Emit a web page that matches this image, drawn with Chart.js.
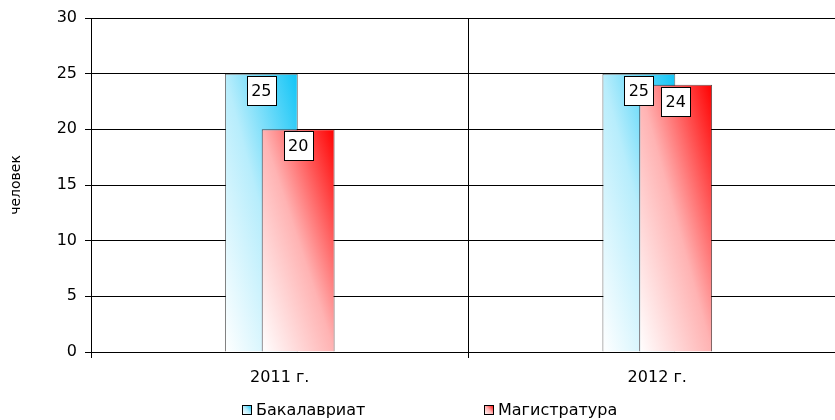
<!DOCTYPE html>
<html>
<head>
<meta charset="utf-8">
<script src="https://cdn.jsdelivr.net/npm/chart.js@4/dist/chart.umd.min.js"></script>
<style>
html,body{margin:0;padding:0;background:#fff;overflow:hidden;width:835px;height:420px;}
canvas{display:block;}
</style>
</head>
<body>
<canvas id="c" width="846" height="420"></canvas>
<script>
const categories = ['2011 г.', '2012 г.'];
const seriesNames = ['Бакалавриат', 'Магистратура'];
const bachelor = [25, 25];
const master = [20, 24];
const yTicks = [0, 5, 10, 15, 20, 25, 30];
const axisTitle = 'человек';

const FONT = '"DejaVu Sans", Verdana, sans-serif';

function mix(rgb, t) {
  return 'rgb(' + rgb.map(c => Math.round(255 * (1 - t) + c * t)).join(',') + ')';
}

function diagGradient(ctx, left, top, right, bottom, rgb) {
  const w = right - left, h = bottom - top;
  const gx = 0.5 / w, gy = -0.5 / h;
  const n = gx * gx + gy * gy;
  const g = ctx.createLinearGradient(left, bottom, left + gx / n, bottom + gy / n);
  g.addColorStop(0, '#ffffff');
  g.addColorStop(0.5, mix(rgb, 0.3));
  g.addColorStop(1, mix(rgb, 1));
  return g;
}

// Draw datasets in their natural order (first dataset at the back) so that
// the overlapping right-hand bar sits on top, then the value boxes.
const drawPlugin = {
  id: 'orderedDraw',
  beforeDatasetsDraw(chart) {
    const ctx = chart.ctx;
    chart.data.datasets.forEach((ds, i) => {
      const meta = chart.getDatasetMeta(i);
      meta.data.forEach(el => {
        const p = el.getProps(['x', 'y', 'base', 'width'], true);
        el.options.backgroundColor = diagGradient(ctx, p.x - p.width / 2, p.y, p.x + p.width / 2, p.base, ds.solidRGB);
      });
    });
    chart.data.datasets.forEach((ds, i) => {
      chart.getDatasetMeta(i).controller.draw();
    });
    ctx.save();
    ctx.font = '16px ' + FONT;
    ctx.textAlign = 'center';
    ctx.textBaseline = 'middle';
    chart.data.datasets.forEach((ds, i) => {
      const meta = chart.getDatasetMeta(i);
      meta.data.forEach((el, j) => {
        const p = el.getProps(['x', 'y'], true);
        const bw = 29, bh = 29;
        const bx = Math.round(p.x - bw / 2) + 0.5, by = Math.round(p.y + 2) + 0.5;
        ctx.fillStyle = '#ffffff';
        ctx.strokeStyle = '#000000';
        ctx.lineWidth = 1;
        ctx.fillRect(bx, by, bw, bh);
        ctx.strokeRect(bx, by, bw, bh);
        ctx.fillStyle = '#000000';
        ctx.fillText(String(ds.data[j]), p.x, by + bh / 2 + 1);
      });
    });
    ctx.restore();
    return false;
  }
};

const legendPlugin = {
  id: 'customLegend',
  afterDraw(chart) {
    const ctx = chart.ctx;
    ctx.save();
    ctx.font = '16px ' + FONT;
    ctx.textBaseline = 'middle';
    ctx.textAlign = 'left';
    const cy = 410;
    const starts = [242, 484];
    chart.data.datasets.forEach((ds, i) => {
      const x = starts[i];
      const bx = x + 0.5, by = cy - 5 + 0.5;
      ctx.fillStyle = diagGradient(ctx, bx, by, bx + 9, by + 9, ds.solidRGB);
      ctx.fillRect(bx, by, 9, 9);
      ctx.strokeStyle = '#000';
      ctx.lineWidth = 1;
      ctx.strokeRect(bx, by, 9, 9);
      ctx.fillStyle = '#000';
      ctx.fillText(ds.label, x + 14, cy + 1);
    });
    ctx.restore();
  }
};

new Chart(document.getElementById('c'), {
  type: 'bar',
  data: {
    labels: categories,
    datasets: [
      {
        label: seriesNames[0],
        data: bachelor,
        solidRGB: [16, 196, 246],
        backgroundColor: () => '#10c4f6',
        borderColor: 'rgba(0,0,0,0.6)',
        borderWidth: 1,
        categoryPercentage: 0.195,
        barPercentage: 1.98
      },
      {
        label: seriesNames[1],
        data: master,
        solidRGB: [255, 0, 0],
        backgroundColor: () => '#ff0000',
        borderColor: 'rgba(40,0,0,0.7)',
        borderWidth: 1,
        categoryPercentage: 0.195,
        barPercentage: 1.98
      }
    ]
  },
  options: {
    responsive: false,
    animation: false,
    events: [],
    layout: { padding: { top: 18, left: 0, right: 0, bottom: 28 } },
    plugins: {
      legend: { display: false },
      tooltip: { enabled: false }
    },
    scales: {
      x: {
        grid: { offset: true, color: '#000', lineWidth: 1, tickLength: 6, drawOnChartArea: true },
        border: { color: '#000', width: 1 },
        ticks: { color: '#000', font: { family: FONT, size: 16 }, padding: 10, maxRotation: 0 },
        afterFit(s) { s.height = 40; }
      },
      y: {
        min: 0,
        max: 30,
        afterBuildTicks(s) { s.ticks = yTicks.map(v => ({ value: v })); },
        grid: { color: '#000', lineWidth: 1, tickLength: 6 },
        border: { color: '#000', width: 1 },
        ticks: { color: '#000', font: { family: FONT, size: 16 }, padding: 8 },
        title: { display: true, text: axisTitle, color: '#000', font: { family: FONT, size: 14 }, padding: 8 },
        afterFit(s) { s.width = 91; }
      }
    }
  },
  plugins: [drawPlugin, legendPlugin]
});
</script>
</body>
</html>
